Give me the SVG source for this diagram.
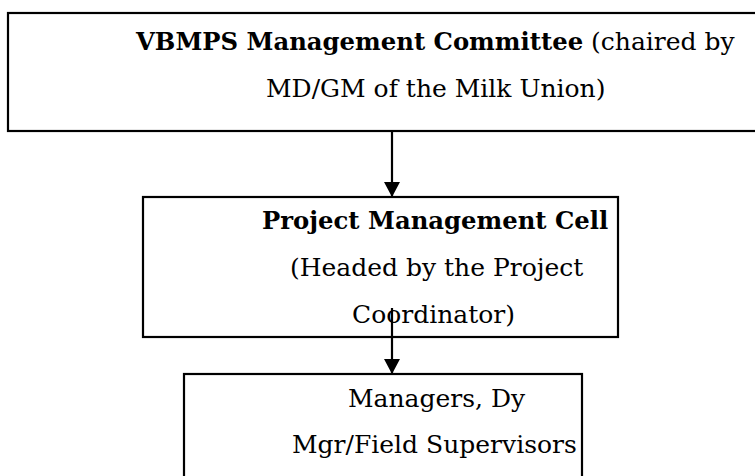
<svg xmlns="http://www.w3.org/2000/svg" width="755" height="476" viewBox="0 0 755 476">
  <style>
    .box { fill: #ffffff; stroke: #000000; stroke-width: 2.2; }
    .t { font-family: "DejaVu Serif", "Liberation Serif", serif; font-size: 25px; fill: #000000; }
    .b { font-weight: bold; font-size: 24.3px; }
    .conn { stroke: #000000; stroke-width: 2.2; fill: none; }
  </style>
  <defs>
    <marker id="arrow" markerUnits="userSpaceOnUse" markerWidth="17" markerHeight="17" refX="15" refY="8" orient="auto">
      <path d="M0,0 L15,8 L0,16 Z" fill="#000000"/>
    </marker>
  </defs>
  <rect width="755" height="476" fill="#ffffff"/>
  <g id="node-committee">
    <rect class="box" x="8" y="13" width="760" height="118"/>
    <text class="t" x="136" y="50"><tspan class="b">VBMPS Management Committee</tspan> (chaired by</text>
    <text class="t" x="266" y="97">MD/GM of the Milk Union)</text>
  </g>
  <g id="node-pmc">
    <rect class="box" x="143" y="197" width="475" height="140"/>
    <text class="t b" x="262" y="229">Project Management Cell</text>
    <text class="t" x="290" y="276">(Headed by the Project</text>
    <text class="t" x="352" y="323">Coordinator)</text>
  </g>
  <g id="node-managers">
    <rect class="box" x="184" y="374" width="398" height="120"/>
    <text class="t" x="348" y="407">Managers, Dy</text>
    <text class="t" x="292" y="453">Mgr/Field Supervisors</text>
  </g>
  <g id="connectors">
    <line class="conn" x1="392" y1="131" x2="392" y2="197" marker-end="url(#arrow)"/>
    <line class="conn" x1="392" y1="308" x2="392" y2="374" marker-end="url(#arrow)"/>
  </g>
</svg>
